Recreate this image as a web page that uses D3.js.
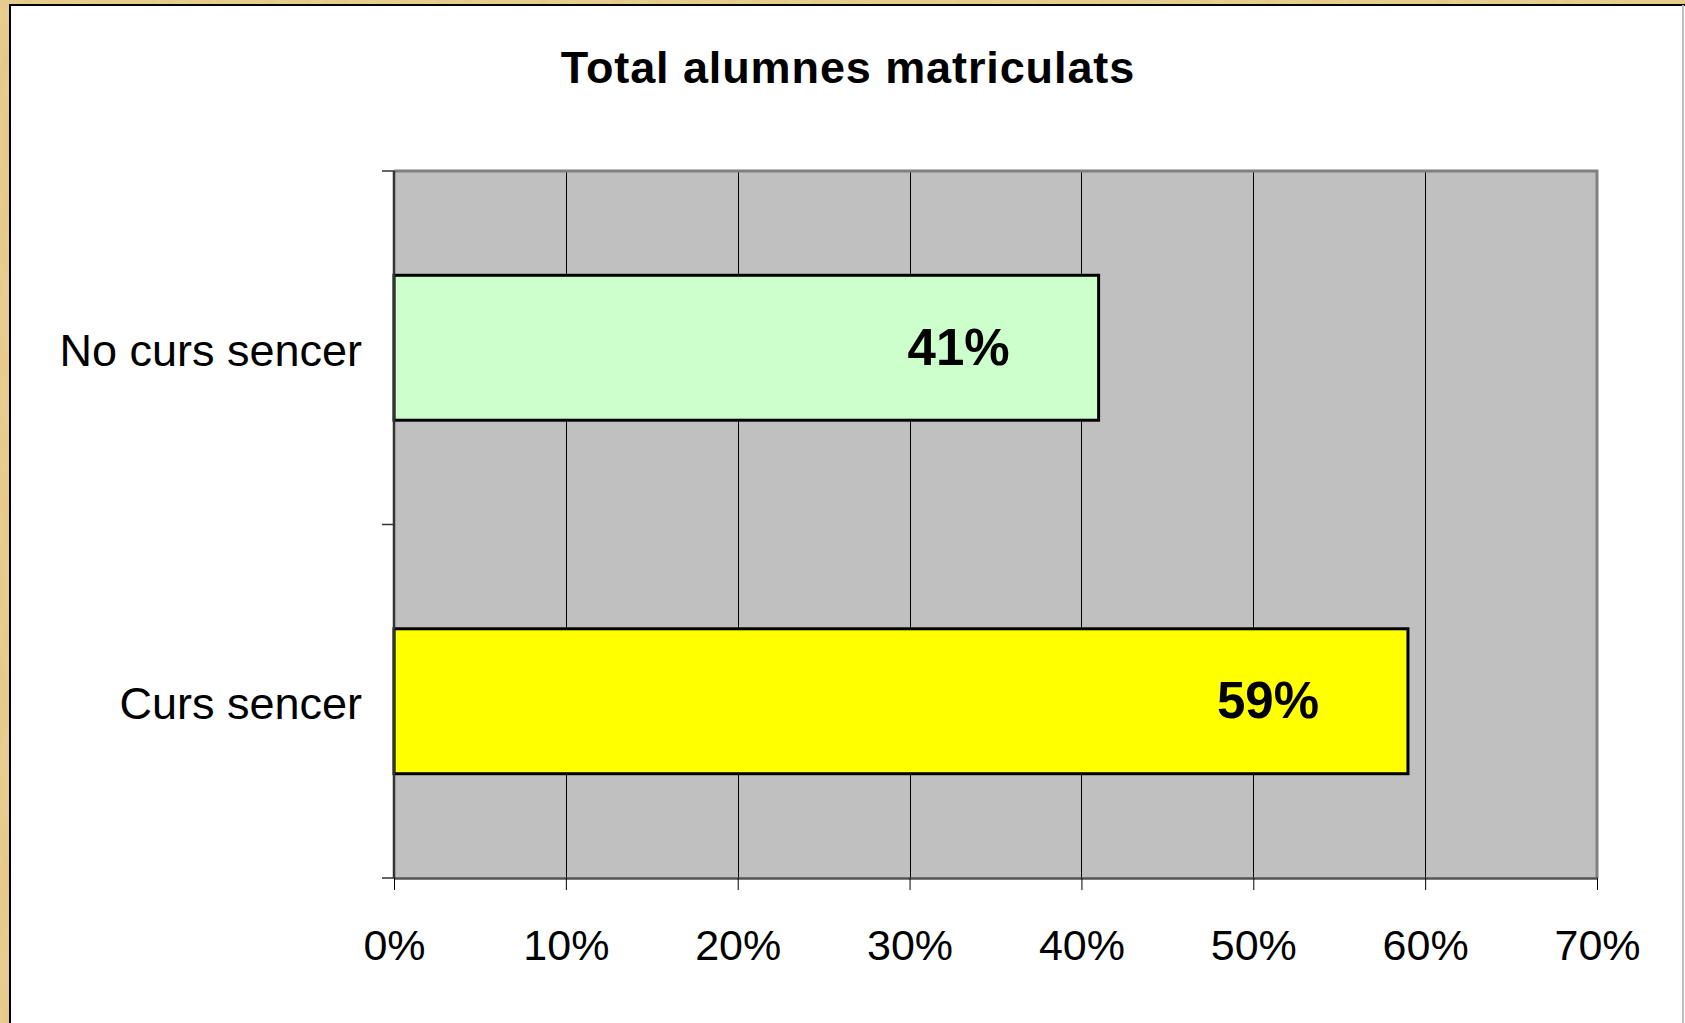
<!DOCTYPE html>
<html>
<head>
<meta charset="utf-8">
<script src="https://cdn.jsdelivr.net/npm/d3@7"></script>
<style>
  body { margin: 0; background: #e6cc92; }
  svg { display: block; }
</style>
</head>
<body>
<div id="chart"></div>
<script>
// data
var categories = ['No curs sencer', 'Curs sencer'];
var values = [0.41, 0.59];
var barColors = ['#ccffcc', '#ffff00'];
var xTicks = [0, 0.1, 0.2, 0.3, 0.4, 0.5, 0.6, 0.7];
var title = 'Total alumnes matriculats';

var W = 1685, H = 1023;
var plot = {left: 394, right: 1597, top: 171, bottom: 878};
var font = '"Liberation Sans", Arial, sans-serif';

var svg = d3.select('#chart').append('svg')
    .attr('width', W)
    .attr('height', H);

// paper texture for the frame
var defs = svg.append('defs');
var flt = defs.append('filter').attr('id', 'paper').attr('x', 0).attr('y', 0).attr('width', '100%').attr('height', '100%');
flt.append('feTurbulence').attr('type', 'fractalNoise').attr('baseFrequency', '0.08 0.02').attr('numOctaves', 2).attr('seed', 3).attr('result', 'noise');
flt.append('feColorMatrix').attr('in', 'noise').attr('type', 'matrix')
    .attr('values', '0 0 0 0 0.93  0 0 0 0 0.82  0 0 0 0 0.58  0 0 0 0.55 0').attr('result', 'tint');
flt.append('feBlend').attr('in', 'tint').attr('in2', 'SourceGraphic').attr('mode', 'multiply');

svg.append('rect')
    .attr('width', W).attr('height', H)
    .attr('fill', '#e9d097')
    .attr('filter', 'url(#paper)');

// chart area
svg.append('rect')
    .attr('x', 10).attr('y', 5)
    .attr('width', W - 10).attr('height', H - 5)
    .attr('fill', '#fff');
svg.append('path')
    .attr('d', `M10,${H} V5 H${W}`)
    .attr('fill', 'none').attr('stroke', '#000').attr('stroke-width', 2);
svg.append('line')
    .attr('x1', W - 2).attr('x2', W - 2).attr('y1', 5).attr('y2', H)
    .attr('stroke', '#c0c0c0').attr('stroke-width', 2);

// scales
var x = d3.scaleLinear()
    .domain([0, 0.7])
    .range([plot.left, plot.right]);

var y = d3.scaleBand()
    .domain(categories)
    .range([plot.top, plot.bottom])
    .padding(0);

var barH = y.bandwidth() * 0.41;

// plot background
svg.append('rect')
    .attr('x', plot.left).attr('y', plot.top)
    .attr('width', plot.right - plot.left).attr('height', plot.bottom - plot.top)
    .attr('fill', '#c0c0c0');

// gridlines
svg.append('g').selectAll('line')
    .data(xTicks.slice(1, -1))
    .join('line')
    .attr('x1', d => Math.round(x(d)) + 0.5).attr('x2', d => Math.round(x(d)) + 0.5)
    .attr('y1', plot.top).attr('y2', plot.bottom)
    .attr('stroke', '#000').attr('stroke-width', 1);

// plot frame top / right
svg.append('path')
    .attr('d', `M${plot.left},${plot.top} H${plot.right} V${plot.bottom}`)
    .attr('fill', 'none').attr('stroke', '#808080').attr('stroke-width', 3);

// bars
svg.append('g').selectAll('rect')
    .data(categories)
    .join('rect')
    .attr('x', x(0))
    .attr('y', d => y(d) + (y.bandwidth() - barH) / 2)
    .attr('width', (d, i) => x(values[i]) - x(0))
    .attr('height', barH)
    .attr('fill', (d, i) => barColors[i])
    .attr('stroke', '#000')
    .attr('stroke-width', 3);

// value labels
svg.append('g').selectAll('text')
    .data(categories)
    .join('text')
    .attr('x', (d, i) => x(values[i]) - 140)
    .attr('y', d => y(d) + y.bandwidth() / 2 + 17)
    .attr('text-anchor', 'middle')
    .attr('font-family', font)
    .attr('font-weight', 'bold')
    .attr('font-size', '51px')
    .attr('fill', '#000')
    .text((d, i) => d3.format('.0%')(values[i]));

// bottom axis
var xAxis = svg.append('g')
    .attr('transform', `translate(0,${plot.bottom})`)
    .call(d3.axisBottom(x).tickValues(xTicks).tickFormat(d3.format('.0%')).tickSize(12).tickPadding(39).tickSizeOuter(0));
xAxis.select('.domain').attr('stroke', '#555').attr('stroke-width', 2.5);
xAxis.selectAll('.tick line').attr('stroke', '#000');
xAxis.selectAll('.tick text')
    .attr('font-family', font)
    .attr('font-size', '43px')
    .attr('fill', '#000');

// left axis line and ticks at band edges
svg.append('line')
    .attr('x1', plot.left).attr('x2', plot.left)
    .attr('y1', plot.top).attr('y2', plot.bottom)
    .attr('stroke', '#333').attr('stroke-width', 2.5);
var edges = categories.map(d => y(d)).concat([y(categories[categories.length - 1]) + y.bandwidth()]);
svg.append('g').selectAll('line')
    .data(edges)
    .join('line')
    .attr('x1', plot.left - 12).attr('x2', plot.left)
    .attr('y1', d => d).attr('y2', d => d)
    .attr('stroke', '#333').attr('stroke-width', 1.5);

// category labels
var yAxis = svg.append('g')
    .attr('transform', `translate(${plot.left},0)`)
    .call(d3.axisLeft(y).tickSize(0).tickPadding(32));
yAxis.select('.domain').remove();
yAxis.selectAll('.tick text')
    .attr('font-family', font)
    .attr('font-size', '45px')
    .attr('fill', '#000')
    .attr('dy', '0.4em');

// title
svg.append('text')
    .attr('x', 848)
    .attr('y', 83)
    .attr('text-anchor', 'middle')
    .attr('font-family', font)
    .attr('font-weight', 'bold')
    .attr('font-size', '45px')
    .attr('letter-spacing', '0.9px')
    .attr('fill', '#000')
    .text(title);
</script>
</body>
</html>
